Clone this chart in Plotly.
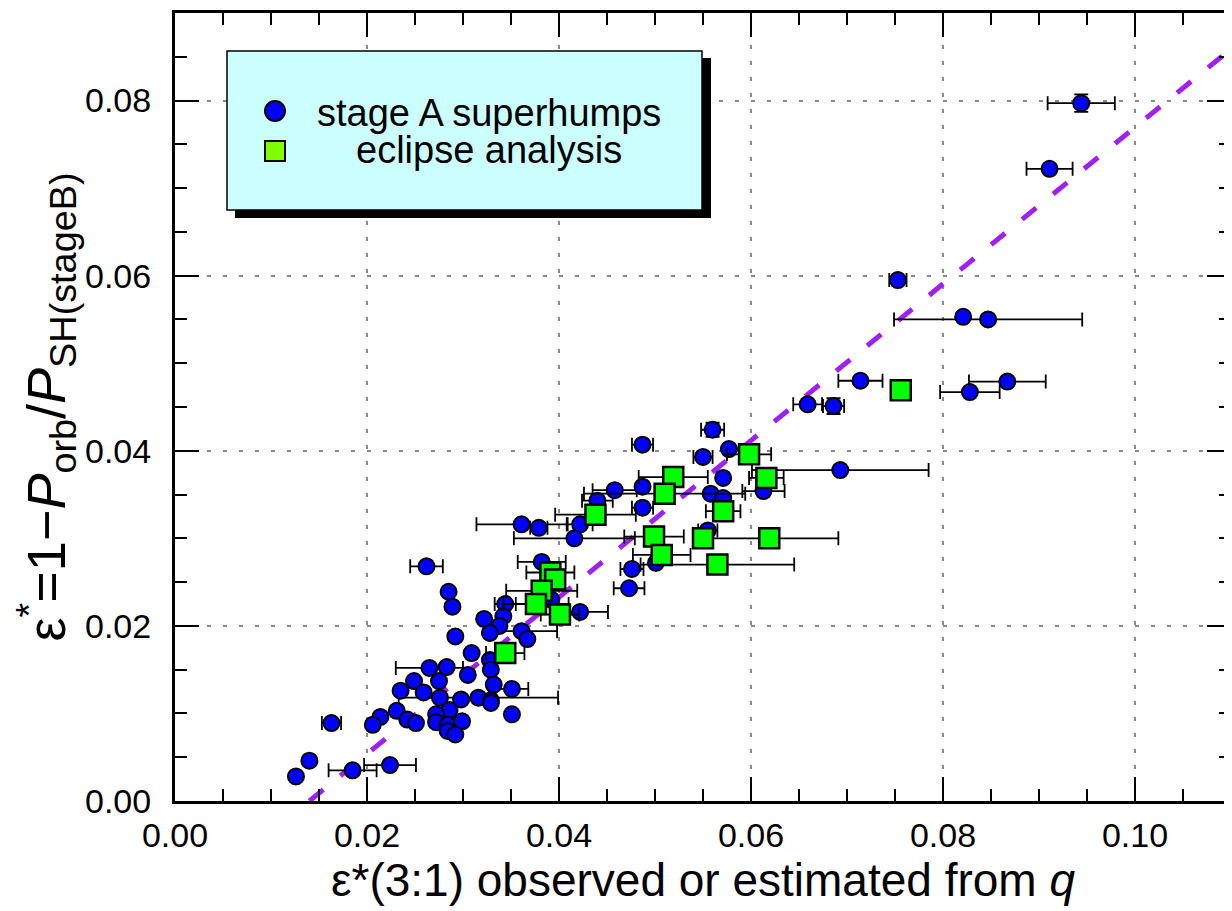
import plotly.graph_objects as go

# ---- data: stage A superhumps (blue circles) ----
stageA_x = [0.0944, 0.0911, 0.0753, 0.0821, 0.0847, 0.0714, 0.0828, 0.0867, 0.0659, 0.0686,
            0.0693, 0.0560, 0.0487, 0.0577, 0.0550, 0.0571, 0.0487, 0.0458, 0.0440, 0.0558,
            0.0571, 0.0613, 0.0487, 0.0422, 0.0416, 0.0555, 0.0501, 0.0476, 0.0473, 0.0361,
            0.0379, 0.0262, 0.0285, 0.0289, 0.0382, 0.0392, 0.0422, 0.0344, 0.0342, 0.0322,
            0.0338, 0.0292, 0.0361, 0.0328, 0.0367, 0.0309, 0.0328, 0.0329, 0.0265, 0.0283,
            0.0305, 0.0249, 0.0275, 0.0235, 0.0259, 0.0276, 0.0298, 0.0316, 0.0329, 0.0332,
            0.0351, 0.0286, 0.0272, 0.0231, 0.0214, 0.0206, 0.0242, 0.0251, 0.0272, 0.0284,
            0.0299, 0.0284, 0.0292, 0.0329, 0.0351, 0.0163, 0.0140, 0.0126, 0.0185, 0.0224]
stageA_y = [0.0797, 0.0722, 0.0595, 0.0553, 0.0550, 0.0480, 0.0467, 0.0479, 0.0453, 0.0451,
            0.0378, 0.0424, 0.0407, 0.0402, 0.0393, 0.0369, 0.0359, 0.0355, 0.0343, 0.0351,
            0.0346, 0.0354, 0.0335, 0.0316, 0.0300, 0.0309, 0.0272, 0.0265, 0.0243, 0.0316,
            0.0312, 0.0268, 0.0239, 0.0222, 0.0273, 0.0230, 0.0216, 0.0225, 0.0211, 0.0208,
            0.0200, 0.0188, 0.0194, 0.0192, 0.0185, 0.0169, 0.0161, 0.0150, 0.0152, 0.0153,
            0.0144, 0.0137, 0.0137, 0.0126, 0.0124, 0.0118, 0.0116, 0.0118, 0.0115, 0.0133,
            0.0128, 0.0104, 0.0099, 0.0103, 0.0096, 0.0087, 0.0093, 0.0089, 0.0090, 0.0087,
            0.0091, 0.0080, 0.0076, 0.0112, 0.0099, 0.0089, 0.0046, 0.0028, 0.0035, 0.0041]
stageA_xerr = [0.0035, 0.0024, 0.0009, 0.0, 0.0098, 0.0023, 0.0031, 0.0040, 0.0015, 0.0011,
               0.0092, 0.0012, 0.0011, 0.0, 0.0010, 0.0, 0.0, 0.0023, 0.0016, 0.0,
               0.0, 0.0022, 0.0011, 0.0013, 0.0063, 0.0010, 0.0, 0.0012, 0.0016, 0.0047,
               0.0009, 0.0017, 0.0, 0.0, 0.0025, 0.0, 0.0029, 0.0011, 0.0, 0.0,
               0.0, 0.0, 0.0037, 0.0, 0.0, 0.0, 0.0, 0.0, 0.0035, 0.0,
               0.0, 0.0, 0.0, 0.0, 0.0, 0.0, 0.0, 0.0083, 0.0, 0.0,
               0.0017, 0.0, 0.0, 0.0, 0.0, 0.0, 0.0, 0.0, 0.0, 0.0,
               0.0, 0.0, 0.0, 0.0, 0.0, 0.0010, 0.0, 0.0, 0.0025, 0.0027]
stageA_yerr = [0.0010, 0.0, 0.0, 0.0, 0.0, 0.0, 0.0, 0.0, 0.0, 0.0009,
               0.0, 0.0008, 0.0, 0.0, 0.0, 0.0, 0.0, 0.0, 0.0, 0.0,
               0.0, 0.0, 0.0, 0.0, 0.0, 0.0, 0.0, 0.0, 0.0, 0.0,
               0.0, 0.0, 0.0, 0.0, 0.0, 0.0, 0.0, 0.0, 0.0, 0.0,
               0.0, 0.0, 0.0, 0.0, 0.0, 0.0, 0.0, 0.0, 0.0, 0.0,
               0.0, 0.0, 0.0, 0.0, 0.0, 0.0, 0.0, 0.0, 0.0, 0.0,
               0.0, 0.0, 0.0, 0.0, 0.0, 0.0, 0.0, 0.0, 0.0, 0.0,
               0.0, 0.0, 0.0, 0.0, 0.0, 0.0, 0.0, 0.0, 0.0, 0.0]

# ---- data: eclipse analysis (green squares) ----
eclipse_x = [0.0756, 0.0598, 0.0616, 0.0519, 0.0510, 0.0571, 0.0438, 0.0499, 0.0550,
             0.0619, 0.0507, 0.0565, 0.0391, 0.0396, 0.0382, 0.0376, 0.0401, 0.0344]
eclipse_y = [0.0469, 0.0396, 0.0369, 0.0370, 0.0351, 0.0331, 0.0327, 0.0302, 0.0300,
             0.0300, 0.0281, 0.0270, 0.0261, 0.0253, 0.0240, 0.0225, 0.0213, 0.0169]
eclipse_xerr = [0.0, 0.0023, 0.0018, 0.0036, 0.0084, 0.0018, 0.0042, 0.0031, 0.0010,
                0.0072, 0.0030, 0.0080, 0.0025, 0.0, 0.0037, 0.0034, 0.0020, 0.0020]

# ---- reference relation (dashed line) ----
line_x = [0.0140, 0.1100]
line_y = [0.0000, 0.0859]

# ---- axis ticks ----
x_ticks = [0.00, 0.02, 0.04, 0.06, 0.08, 0.10]
x_ticklabels = ["0.00", "0.02", "0.04", "0.06", "0.08", "0.10"]
y_ticks = [0.00, 0.02, 0.04, 0.06, 0.08]
y_ticklabels = ["0.00", "0.02", "0.04", "0.06", "0.08"]

FONT = "Liberation Sans, Arial, Helvetica, sans-serif"

fig = go.Figure()

fig.add_trace(go.Scatter(
    x=line_x, y=line_y, mode="lines",
    line=dict(color="#a020f0", width=5, dash="18px,22px"),
    hoverinfo="skip", showlegend=False))

fig.add_trace(go.Scatter(
    x=stageA_x, y=stageA_y, mode="markers", name="stage A superhumps",
    error_x=dict(type="data", array=stageA_xerr, color="black", thickness=1.8, width=7),
    error_y=dict(type="data", array=stageA_yerr, color="black", thickness=1.8, width=7),
    marker=dict(symbol="circle", size=16, color="#0000ff",
                line=dict(color="black", width=2)),
    showlegend=False))

fig.add_trace(go.Scatter(
    x=eclipse_x, y=eclipse_y, mode="markers", name="eclipse analysis",
    error_x=dict(type="data", array=eclipse_xerr, color="black", thickness=1.8, width=7),
    marker=dict(symbol="square", size=20, color="#00ff00",
                line=dict(color="black", width=2.5)),
    showlegend=False))

# ---- plot geometry (pixels) ----
W, H = 1232, 911
L, R, T, B = 167, 9, 5, 118
pw, ph = W - L - R, H - T - B

def px2paper(px, py):
    return (px - L) / pw, (H - B - py) / ph

shapes = []
# legend shadow
x0, y1 = px2paper(227, 50)
x1, y0 = px2paper(703, 210)
shapes.append(dict(type="rect", xref="paper", yref="paper", x0=x0, x1=x1, y0=y0, y1=y1,
                   fillcolor="black", line=dict(width=0), layer="above"))
# legend box
x0, y1 = px2paper(219, 43)
x1, y0 = px2paper(694, 202)
shapes.append(dict(type="rect", xref="paper", yref="paper", x0=x0, x1=x1, y0=y0, y1=y1,
                   fillcolor="#ccffff", line=dict(color="black", width=1.5), layer="above"))
# legend symbols
cx, cy = px2paper(267, 103)
shapes.append(dict(type="circle", xref="paper", yref="paper", xsizemode="pixel", ysizemode="pixel",
                   xanchor=cx, yanchor=cy, x0=-10, x1=10, y0=-10, y1=10,
                   fillcolor="#0000ff", line=dict(color="black", width=2), layer="above"))
cx, cy = px2paper(267, 143)
shapes.append(dict(type="rect", xref="paper", yref="paper", xsizemode="pixel", ysizemode="pixel",
                   xanchor=cx, yanchor=cy, x0=-10, x1=10, y0=-10, y1=10,
                   fillcolor="#80ff00", line=dict(color="black", width=2), layer="above"))

annotations = []
tx, ty = px2paper(481, 105)
annotations.append(dict(xref="paper", yref="paper", x=tx, y=ty, text="stage A superhumps",
                        showarrow=False, xanchor="center", yanchor="middle",
                        font=dict(family=FONT, size=38, color="black")))
tx, ty = px2paper(481, 142)
annotations.append(dict(xref="paper", yref="paper", x=tx, y=ty, text="eclipse analysis",
                        showarrow=False, xanchor="center", yanchor="middle",
                        font=dict(family=FONT, size=38, color="black")))

axis_common = dict(
    showline=True, linecolor="black", linewidth=3, mirror="allticks",
    ticks="inside", ticklen=24, tickwidth=2, tickcolor="black",
    showgrid=True, gridcolor="#888888", gridwidth=1.5, griddash="4px,12px",
    zeroline=False,
    tickfont=dict(family=FONT, size=34, color="black"),
    minor=dict(ticks="inside", ticklen=12, tickwidth=2, tickcolor="black",
               dtick=0.005, showgrid=False),
)

fig.update_layout(
    width=W, height=H,
    margin=dict(l=L, r=R, t=T, b=B, autoexpand=False),
    paper_bgcolor="white", plot_bgcolor="white",
    font=dict(family=FONT, color="black"),
    shapes=shapes, annotations=annotations,
    showlegend=False,
    xaxis=dict(axis_common, range=[0, 0.11], tickvals=x_ticks, ticktext=x_ticklabels,
               ticklabelstandoff=2,
               title=dict(text="ε*(3:1) observed or estimated from <i>q</i>",
                          font=dict(family=FONT, size=46, color="black"), standoff=0)),
    yaxis=dict(axis_common, range=[0, 0.09], tickvals=y_ticks, ticktext=y_ticklabels,
               ticklabelstandoff=14,
               title=dict(text="ε<sup>*</sup>=1−<i>P</i><sub>orb</sub>/<i>P</i><sub>SH(stageB)</sub>",
                          font=dict(family=FONT, size=54, color="black"), standoff=12)),
)

fig.write_html("out.html")
